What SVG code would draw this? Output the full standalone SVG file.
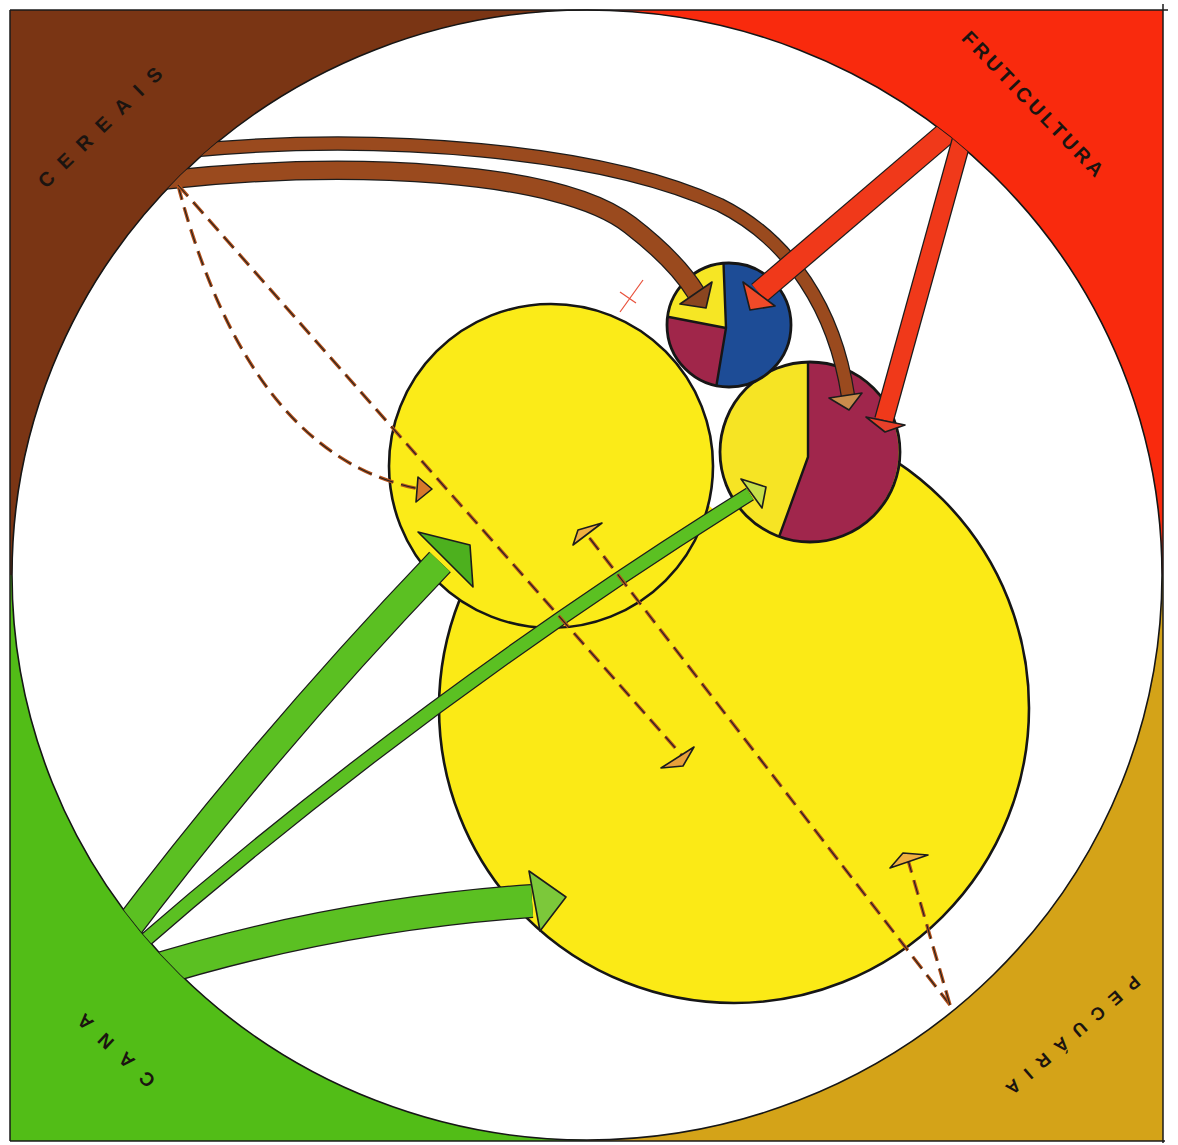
<svg xmlns="http://www.w3.org/2000/svg" width="1178" height="1145" viewBox="0 0 1178 1145">
<defs>
<style>
.lbl{font-family:"Liberation Sans",Arial,sans-serif;font-weight:bold;fill:#1b1410;text-anchor:middle}
.node{stroke:#161616;stroke-width:2.6}
.div{fill:none;stroke:#161616;stroke-width:2.4;stroke-linejoin:round}
.bo{fill:none;stroke:#1c1c1c;stroke-linecap:butt}
.bf{fill:none;stroke-linecap:butt}
.dsh{fill:none;stroke:#b4521c;stroke-width:3.4;stroke-dasharray:15 8}
.dshk{fill:none;stroke:#222;stroke-width:1.1;stroke-dasharray:15 8}
.ah{stroke:#1c1c1c;stroke-width:1.6;stroke-linejoin:round}
</style>
<clipPath id="inner"><ellipse cx="587" cy="575" rx="575" ry="565"/></clipPath>
<clipPath id="bigclip"><path clip-rule="evenodd" d="M 0,0 H 1178 V 1145 H 0 Z M 690,380 L 770,380 L 770,500 L 740,509 L 728,515 L 715,511 L 704,501 L 690,490 Z"/></clipPath>
</defs>
<rect x="0" y="0" width="1178" height="1145" fill="#ffffff"/>
<g id="corners">
  <g id="cereais">
    <rect x="10" y="10" width="577" height="565" fill="#7a3514"/>
  </g>
  <g id="fruticultura">
    <rect x="587" y="10" width="576" height="565" fill="#f92a0d"/>
  </g>
  <g id="cana">
    <rect x="10" y="575" width="577" height="566" fill="#52bd17"/>
  </g>
  <g id="pecuaria">
    <rect x="587" y="575" width="576" height="566" fill="#d4a318"/>
  </g>
  <ellipse cx="587" cy="575" rx="575" ry="565" fill="#ffffff" stroke="#161616" stroke-width="1.6"/>
  <g fill="none" stroke="#1a1a1a" stroke-width="1.5">
    <line x1="10" y1="10" x2="1168" y2="10"/>
    <line x1="10" y1="10" x2="10" y2="1141"/>
    <line x1="1163" y1="4" x2="1163" y2="1143"/>
    <line x1="10" y1="1141" x2="1165" y2="1141"/>
  </g>
  <text class="lbl" font-size="20" letter-spacing="12.5" transform="translate(104.5,123) rotate(-44)" y="7">CEREAIS</text>
  <text class="lbl" font-size="20" letter-spacing="3.6" transform="translate(1034,105) rotate(46)" y="7">FRUTICULTURA</text>
  <text class="lbl" font-size="19" letter-spacing="14.5" transform="translate(110.5,1046) rotate(223)" y="7">CANA</text>
  <text class="lbl" font-size="18" letter-spacing="11" transform="translate(1069,1039) rotate(139)" y="6.5">PECUÁRIA</text>
</g>
<g id="big-circle" clip-path="url(#bigclip)">
  <circle class="node" cx="734" cy="708" r="295" fill="#fbea16"/>
</g>
<g id="medium-circle">
  <circle class="node" cx="551" cy="466" r="162" fill="#fbeb18"/>
</g>
<g id="pie-right">
  <circle cx="810" cy="452" r="90" fill="#f6e424"/>
  <path d="M 808,362 A 90 90 0 1 1 779,537 L 808,457 Z" fill="#a0264c"/>
  <polyline class="div" points="808,362 808,457 779,537"/>
  <circle cx="810" cy="452" r="90" fill="none" stroke="#161616" stroke-width="2.8"/>
</g>
<g id="pie-small">
  <circle cx="729" cy="325" r="62" fill="#1d4c96"/>
  <path d="M 726,328 L 723.5,263.2 A 62 62 0 0 0 667.6,316.7 Z" fill="#f6e624"/>
  <path d="M 726,328 L 667.6,316.7 A 62 62 0 0 0 716.4,385.7 Z" fill="#a0264a"/>
  <polyline class="div" points="723.5,263.2 726,328 716.4,385.7"/>
  <line class="div" x1="667.6" y1="316.7" x2="726" y2="328"/>
  <circle cx="729" cy="325" r="62" fill="none" stroke="#161616" stroke-width="2.8"/>
</g>
<g id="connectors">
  <g clip-path="url(#inner)">
    <!-- brown bands from CEREAIS -->
    <path class="bo" stroke-width="14.5" d="M 185,151 C 380,132 600,150 720,205 C 790,240 835,310 848,396"/>
    <path class="bf" stroke="#9a4a1e" stroke-width="12" d="M 185,151 C 380,132 600,150 720,205 C 790,240 835,310 848,396"/>
    <path class="bo" stroke-width="19.5" d="M 165,180 C 350,160 560,170 630,225 C 665,252 685,275 696,293"/>
    <path class="bf" stroke="#9a4a1e" stroke-width="17" d="M 165,180 C 350,160 560,170 630,225 C 665,252 685,275 696,293"/>
    <!-- red bands from FRUTICULTURA -->
    <path class="bo" stroke-width="24" d="M 958,123 L 759,293"/>
    <path class="bf" stroke="#f0391a" stroke-width="21.5" d="M 958,123 L 759,293"/>
    <path class="bo" stroke-width="20" d="M 963,135 L 884,420"/>
    <path class="bf" stroke="#f0391a" stroke-width="17.5" d="M 963,135 L 884,420"/>
    <!-- green bands from CANA -->
    <path class="bo" stroke-width="30" d="M 118,940 Q 265,745 440,562"/>
    <path class="bf" stroke="#5bc022" stroke-width="27.5" d="M 118,940 Q 265,745 440,562"/>
    <path class="bo" stroke-width="15" d="M 128,955 Q 420,700 750,494"/>
    <path class="bf" stroke="#5bc022" stroke-width="12.5" d="M 128,955 Q 420,700 750,494"/>
    <path class="bo" stroke-width="34" d="M 140,975 Q 330,915 532,901"/>
    <path class="bf" stroke="#5bc022" stroke-width="31.5" d="M 140,975 Q 330,915 532,901"/>
    <!-- dashed links -->
    <path class="dsh" d="M 178,185 Q 249,456 420,489"/>
    <path class="dshk" d="M 178,185 Q 249,456 420,489"/>
    <path class="dsh" d="M 178,185 L 686,760"/>
    <path class="dshk" d="M 178,185 L 686,760"/>
    <path class="dsh" d="M 950,1005 L 588,536"/>
    <path class="dshk" d="M 950,1005 L 588,536"/>
    <path class="dsh" d="M 950,1005 L 908,860"/>
    <path class="dshk" d="M 950,1005 L 908,860"/>
  </g>
  <!-- arrowheads -->
  <polygon class="ah" points="680,304 712,282 706,308" fill="#8a4520"/>
  <polygon class="ah" points="829,398 862,393 849,410" fill="#c98c4c"/>
  <polygon class="ah" points="743,282 775,306 750,310" fill="#f04a28"/>
  <polygon class="ah" points="866,417 905,425 885,432" fill="#e8402a"/>
  <polygon class="ah" points="418,532 470,545 473,587" fill="#4db01e"/>
  <polygon class="ah" points="741,479 766,487 762,508" fill="#c6e04a"/>
  <polygon class="ah" points="529,871 566,897 540,931" fill="#7cc83a"/>
  <polygon class="ah" points="418,477 432,489 416,502" fill="#d8782a"/>
  <polygon class="ah" points="661,768 694,747 683,766" fill="#e8a03a"/>
  <polygon class="ah" points="578,530 602,523 573,545" fill="#f0b040"/>
  <polygon class="ah" points="903,853 928,855 890,868" fill="#f0b040"/>
  <g stroke="#e8503a" stroke-width="1.2" fill="none">
    <line x1="643" y1="280" x2="620" y2="312"/>
    <line x1="620" y1="292" x2="636" y2="303"/>
  </g>
</g>
</svg>
